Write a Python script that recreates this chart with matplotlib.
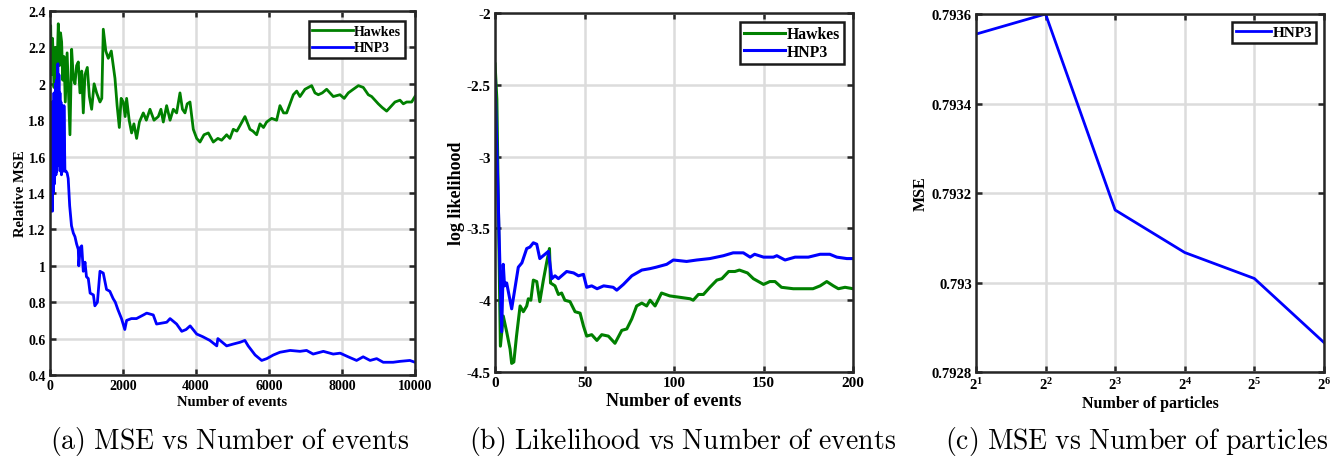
import matplotlib
matplotlib.use("Agg")
import matplotlib.pyplot as plt
import numpy as np
from matplotlib.ticker import FormatStrFormatter

plt.rcParams['font.family'] = ['Liberation Serif', 'DejaVu Serif']
plt.rcParams['font.weight'] = 'bold'
plt.rcParams['mathtext.fontset'] = 'custom'
plt.rcParams['mathtext.rm'] = 'Liberation Serif:bold'
plt.rcParams['mathtext.bf'] = 'Liberation Serif:bold'
plt.rcParams['mathtext.it'] = 'Liberation Serif:bold'

# ---------------- Panel (a) data ----------------
a_hawkes_x = [0, 19, 45, 70, 90, 110, 137, 160, 190, 228, 260, 290, 320, 350, 384, 420, 470,
              548, 594, 640, 685, 730, 776, 822, 870, 913, 960, 1023, 1080, 1142, 1210, 1279,
              1370, 1420, 1461, 1530, 1598, 1680, 1781, 1840, 1900, 1950, 2009, 2060, 2100,
              2170, 2237, 2300, 2374, 2450, 2557, 2640, 2740, 2850, 2968, 3040, 3105,
              3196, 3290, 3379, 3470, 3562, 3630, 3699, 3760, 3836, 3927, 4020, 4110, 4220,
              4338, 4475, 4600, 4703, 4840, 4930, 5023, 5120, 5205,
              5342, 5479, 5560, 5662, 5753, 5850, 5936, 6073, 6210, 6301, 6400, 6484, 6667,
              6760, 6849, 6986, 7169, 7260,
              7352, 7460, 7580, 7762, 7945, 8060, 8173, 8310, 8450, 8584, 8721, 8813, 8995,
              9100, 9224, 9452, 9589, 9680, 9772, 9909, 10000]
a_hawkes_y = [2.00, 2.32, 2.05, 2.25, 2.14, 1.98, 2.04, 2.20, 2.05, 2.33, 2.10, 2.28, 2.23,
              2.02, 2.15, 1.90, 2.17, 1.72, 2.19, 2.03, 2.00, 2.10, 2.12, 1.95, 2.07, 1.84,
              2.05, 2.09, 1.93, 1.86, 2.00, 1.95, 1.90, 1.92, 2.30, 2.18, 2.14, 2.18, 2.03,
              1.88, 1.76, 1.92, 1.90, 1.82, 1.92, 1.80, 1.73, 1.78, 1.70, 1.79, 1.84,
              1.80, 1.86, 1.80, 1.82, 1.86, 1.79, 1.88, 1.80, 1.86, 1.84, 1.95, 1.86, 1.84,
              1.89, 1.90, 1.75, 1.70, 1.68, 1.72, 1.73, 1.68, 1.70, 1.69,
              1.72, 1.70, 1.75, 1.74, 1.77, 1.82, 1.75, 1.74, 1.72, 1.78, 1.76, 1.79,
              1.81, 1.80, 1.88, 1.84, 1.84, 1.94, 1.96, 1.93, 1.97, 1.99, 1.95, 1.94,
              1.95, 1.97, 1.93, 1.94, 1.92, 1.95, 1.97, 1.99, 1.98, 1.94, 1.93, 1.89, 1.87,
              1.85, 1.90, 1.91, 1.89, 1.90, 1.90, 1.93]
a_hnp3_x = [0, 8, 18, 28, 41, 55, 68, 82, 96, 110, 124, 137, 150, 164, 178, 192, 205, 219,
            232, 246, 260, 274, 288, 301, 315, 329, 343, 356, 370, 384, 410, 440, 470, 500,
            540, 590, 640, 685, 730, 776, 790, 830, 870, 913, 960, 1000, 1050, 1100, 1190,
            1230, 1300, 1370, 1460, 1550, 1640, 1730, 1790, 1860, 1960, 2050, 2100, 2230,
            2370, 2560, 2650, 2830, 2920, 3200, 3290, 3470, 3610, 3730, 3840, 4020, 4190,
            4380, 4570, 4600, 4840, 5020, 5210, 5340, 5430, 5620, 5800, 5940, 6120, 6300,
            6580, 6850, 7030, 7210, 7490, 7760, 7950, 8170, 8400, 8580, 8770, 8950, 9130,
            9400, 9590, 9860, 10000]
a_hnp3_y = [1.97, 1.40, 1.90, 1.30, 1.85, 1.35, 1.30, 1.90, 1.40, 1.95, 1.45, 1.55, 2.00,
            1.50, 2.02, 1.52, 2.10, 2.11, 1.55, 2.05, 1.60, 1.95, 1.52, 1.90, 1.50, 1.88,
            1.55, 1.70, 1.52, 1.88, 1.52, 1.52, 1.51, 1.48, 1.33, 1.22, 1.18, 1.16, 1.12,
            1.09, 1.00, 1.10, 1.11, 0.97, 1.02, 0.94, 0.93, 0.85, 0.84, 0.78, 0.80, 0.97,
            0.96, 0.87, 0.86, 0.82, 0.80, 0.76, 0.71, 0.65, 0.70, 0.71, 0.71, 0.73, 0.74,
            0.73, 0.68, 0.69, 0.71, 0.68, 0.64, 0.65, 0.67, 0.625, 0.61, 0.59, 0.56, 0.60,
            0.56, 0.57, 0.58, 0.59, 0.56, 0.51, 0.48, 0.49, 0.51, 0.525, 0.535, 0.53, 0.535,
            0.515, 0.53, 0.515, 0.52, 0.50, 0.48, 0.50, 0.48, 0.49, 0.47, 0.47, 0.475, 0.48,
            0.47]

# ---------------- Panel (b) data ----------------
b_hawkes_x = [0, 1, 3, 4.6, 6.5, 8.4, 9.3, 10.5, 12, 14, 15.8, 17.7, 18.6, 20, 21.4, 23.3,
              25, 27, 28.8, 30.4, 31, 33.5, 35.4, 37.2, 39, 41.9, 44.7, 47.5, 49.4, 51.2,
              54, 56.9, 59.6, 63.3, 67, 70.8, 73.6, 76.4, 79.1, 82, 84.7, 86.6, 89.4, 93,
              97.6, 103.4, 109, 110.7, 113.6, 116.4, 120, 123.9, 126.7, 130.5, 134, 136.5,
              141, 144.3, 150, 153.5, 156.4, 160, 166.6, 172, 177.6, 181.6, 185.3, 189,
              191.8, 195.5, 200]
b_hawkes_y = [-2.355, -2.6, -4.32, -4.11, -4.22, -4.34, -4.44, -4.43, -4.25, -4.04, -4.08,
              -4.04, -3.99, -4.00, -3.86, -3.87, -4.01, -3.86, -3.74, -3.64, -3.88, -3.90,
              -3.96, -3.95, -4.00, -4.01, -4.08, -4.09, -4.18, -4.25, -4.24, -4.28, -4.24,
              -4.25, -4.30, -4.21, -4.20, -4.13, -4.04, -4.02, -4.04, -4.00, -4.04, -3.95,
              -3.97, -3.98, -3.99, -4.00, -3.96, -3.96, -3.91, -3.86, -3.85, -3.80, -3.80,
              -3.79, -3.81, -3.85, -3.89, -3.87, -3.87, -3.91, -3.92, -3.92, -3.92, -3.90,
              -3.87, -3.90, -3.92, -3.91, -3.92]
b_hnp3_x = [0, 3.7, 4.6, 5.3, 6, 6.5, 9.3, 13, 15, 17.7, 19.5, 21.4, 23.3, 25, 27.9, 29.8,
            31.7, 33.5, 35.4, 40, 43.9, 46.6, 49.4, 51.2, 54, 57, 60.7, 66, 68, 71.7, 76.4,
            82, 86.6, 90, 95.9, 99.6, 107, 112.7, 120, 127.6, 133, 138.7, 142.5, 145, 150,
            155.5, 157.4, 162, 167.6, 172, 175, 181.6, 187, 190.9, 196.5, 200]
b_hnp3_y = [-2.47, -4.22, -3.75, -3.90, -3.88, -3.88, -4.06, -3.77, -3.74, -3.64, -3.63,
            -3.60, -3.61, -3.71, -3.68, -3.66, -3.85, -3.83, -3.85, -3.80, -3.81, -3.83,
            -3.82, -3.91, -3.90, -3.92, -3.90, -3.91, -3.93, -3.89, -3.83, -3.79, -3.78,
            -3.77, -3.75, -3.72, -3.73, -3.72, -3.71, -3.69, -3.67, -3.67, -3.70, -3.68,
            -3.70, -3.70, -3.69, -3.72, -3.70, -3.70, -3.70, -3.68, -3.68, -3.70, -3.71,
            -3.71]

# ---------------- Panel (c) data ----------------
c_particles = [2, 4, 8, 16, 32, 64]
c_mse = [0.793555, 0.793600, 0.793162, 0.793067, 0.793009, 0.792866]
c_tick_labels = [r'$\mathbf{2^{1}}$', r'$\mathbf{2^{2}}$', r'$\mathbf{2^{3}}$',
                 r'$\mathbf{2^{4}}$', r'$\mathbf{2^{5}}$', r'$\mathbf{2^{6}}$']

captions = ['(a) MSE vs Number of events', '(b) Likelihood vs Number of events',
            '(c) MSE vs Number of particles']

GREEN = '#008000'
BLUE = '#0000ff'
SPINE = '#262626'
GRID = '#dcdcdc'

fig = plt.figure(figsize=(13.43, 4.60), dpi=100)


def style(ax, tick_fs):
    for s in ax.spines.values():
        s.set_linewidth(1.8)
        s.set_color(SPINE)
    ax.grid(True, color=GRID, linewidth=1.8)
    ax.set_axisbelow(True)
    ax.tick_params(direction='in', length=4, width=1.8, color=SPINE,
                   top=True, right=True, labelsize=tick_fs, pad=3)
    for lab in ax.get_xticklabels() + ax.get_yticklabels():
        lab.set_fontweight('bold')


def legend(ax, fs, handlelength, pad=0.8, spacing=0.1):
    leg = ax.legend(loc='upper right', handlelength=handlelength,
                    handletextpad=0.1, borderpad=0.25, labelspacing=spacing,
                    fancybox=False, framealpha=1, edgecolor='#1a1a1a',
                    borderaxespad=pad, prop={'weight': 'bold', 'size': fs})
    leg.get_frame().set_linewidth(1.8)
    return leg

# Panel a
ax1 = fig.add_axes([0.0372, 0.1826, 0.2718, 0.7913])
ax1.plot(a_hawkes_x, a_hawkes_y, color=GREEN, lw=2.0, label='Hawkes')
ax1.plot(a_hnp3_x, a_hnp3_y, color=BLUE, lw=2.0, label='HNP3')
ax1.set_xlim(0, 10000)
ax1.set_ylim(0.4, 2.4)
ax1.set_xticks(np.arange(0, 10001, 2000))
ax1.set_yticks(np.arange(0.4, 2.41, 0.2))
ax1.xaxis.set_major_formatter(FormatStrFormatter('%d'))
ax1.yaxis.set_major_formatter(FormatStrFormatter('%g'))
style(ax1, 10)
ax1.set_xlabel('Number of events', fontsize=10.5, fontweight='bold', labelpad=2)
ax1.set_ylabel('Relative MSE', fontsize=10.5, fontweight='bold', labelpad=1)
legend(ax1, 10, 2.9, pad=0.75, spacing=0.25)

# Panel b
ax2 = fig.add_axes([0.3686, 0.1891, 0.2666, 0.7804])
ax2.plot(b_hawkes_x, b_hawkes_y, color=GREEN, lw=2.2, label='Hawkes')
ax2.plot(b_hnp3_x, b_hnp3_y, color=BLUE, lw=2.2, label='HNP3')
ax2.set_xlim(0, 200)
ax2.set_ylim(-4.5, -2)
ax2.set_xticks(np.arange(0, 201, 50))
ax2.set_yticks(np.arange(-4.5, -1.99, 0.5))
ax2.xaxis.set_major_formatter(FormatStrFormatter('%d'))
ax2.yaxis.set_major_formatter(FormatStrFormatter('%g'))
style(ax2, 11)
ax2.set_xlabel('Number of events', fontsize=13, fontweight='bold', labelpad=2)
ax2.set_ylabel('log likelihood', fontsize=13, fontweight='bold', labelpad=1)
legend(ax2, 11.3, 2.6, pad=0.6)

# Panel c
ax3 = fig.add_axes([0.7267, 0.1891, 0.2591, 0.7783])
ax3.plot(c_particles, c_mse, color=BLUE, lw=2.0, label='HNP3')
ax3.set_xscale('log', base=2)
ax3.set_xlim(2, 64)
ax3.set_ylim(0.7928, 0.7936)
ax3.set_xticks(c_particles)
ax3.set_xticklabels(c_tick_labels)
ax3.minorticks_off()
ax3.set_yticks([0.7928, 0.7930, 0.7932, 0.7934, 0.7936])
ax3.yaxis.set_major_formatter(FormatStrFormatter('%g'))
style(ax3, 10.5)
ax3.set_xlabel('Number of particles', fontsize=11.5, fontweight='bold', labelpad=2)
ax3.set_ylabel('MSE', fontsize=11.5, fontweight='bold', labelpad=2)
legend(ax3, 11, 2.3, pad=0.5)

# Captions
for xc, cap in zip([230 / 1343, 683 / 1343, 1137 / 1343], captions):
    fig.text(xc, 1 - 442 / 460, r'$\mathrm{' + cap.replace(' ', r'\ ') + '}$',
             ha='center', va='center', fontsize=20, math_fontfamily='cm')

fig.savefig('out.png', dpi=100)
